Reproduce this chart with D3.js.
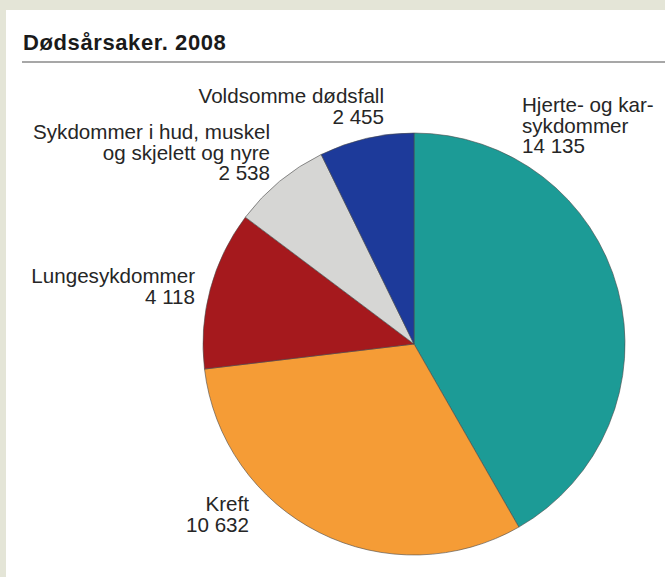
<!DOCTYPE html>
<html>
<head>
<meta charset="utf-8">
<script src="https://cdn.jsdelivr.net/npm/d3@7"></script>
<style>
  body { margin: 0; background: #e4e5d7; }
  svg { display: block; }
</style>
</head>
<body>
<svg id="chart"></svg>
<script>
// data
var categories = ["Hjerte- og kar-sykdommer", "Kreft", "Lungesykdommer", "Sykdommer i hud, muskel og skjelett og nyre", "Voldsomme dødsfall"];
var deaths = [14135, 10632, 4118, 2538, 2455];
var valueLabels = ["14 135", "10 632", "4 118", "2 538", "2 455"];
var labelLines = [
  ["Hjerte- og kar-", "sykdommer"],
  ["Kreft"],
  ["Lungesykdommer"],
  ["Sykdommer i hud, muskel", "og skjelett og nyre"],
  ["Voldsomme dødsfall"]
];
var colours = ["#1c9b96", "#f59c36", "#a5191d", "#d6d6d4", "#1d3a9a"];
var title = "Dødsårsaker. 2008";

var width = 665, height = 577;
var cx = 414, cy = 344, radius = 211;

// where each label block sits: x of anchor, baseline of first line, anchor
var labelPos = [
  {x: 522, y: 112, anchor: "start"},
  {x: 249, y: 511, anchor: "end"},
  {x: 195, y: 283, anchor: "end"},
  {x: 270, y: 139, anchor: "end"},
  {x: 384, y: 103, anchor: "end"}
];

var svg = d3.select("#chart")
    .attr("width", width)
    .attr("height", height);

// white panel
svg.append("rect")
    .attr("x", 6).attr("y", 10)
    .attr("width", width - 6).attr("height", height - 10)
    .attr("fill", "#ffffff");

svg.append("text")
    .attr("x", 23).attr("y", 50)
    .attr("font-family", "Liberation Sans, Arial, sans-serif")
    .attr("font-size", 22)
    .attr("font-weight", "bold")
    .attr("letter-spacing", 0.6)
    .attr("fill", "#1a1a1a")
    .text(title);

svg.append("line")
    .attr("x1", 22).attr("x2", width)
    .attr("y1", 62).attr("y2", 62)
    .attr("stroke", "#8a8a8a")
    .attr("stroke-width", 1.5);

var pie = d3.pie().sort(null).value(function(d){ return d; });
var arc = d3.arc().innerRadius(0).outerRadius(radius);

var g = svg.append("g").attr("transform", "translate(" + cx + "," + cy + ")");
g.selectAll("path")
    .data(pie(deaths))
    .enter().append("path")
    .attr("d", arc)
    .attr("fill", function(d, i){ return colours[i]; })
    .attr("stroke", "#4a4a4a")
    .attr("stroke-width", 0.6);

var lab = svg.append("g")
    .attr("font-family", "Liberation Sans, Arial, sans-serif")
    .attr("font-size", 20.6)
    .attr("fill", "#262626");

categories.forEach(function(c, i){
  var p = labelPos[i];
  var t = lab.append("text")
      .attr("x", p.x).attr("y", p.y)
      .attr("text-anchor", p.anchor);
  var lines = labelLines[i].concat([valueLabels[i]]);
  lines.forEach(function(s, j){
    t.append("tspan")
      .attr("x", p.x)
      .attr("dy", j === 0 ? 0 : 20.5)
      .text(s);
  });
});
</script>
</body>
</html>
